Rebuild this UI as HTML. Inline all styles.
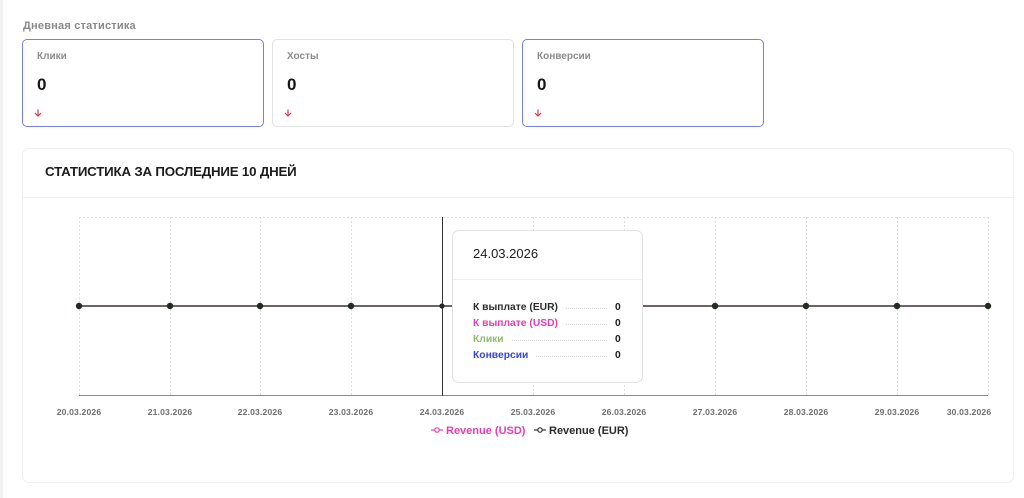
<!DOCTYPE html>
<html><head><meta charset="utf-8">
<style>
*{box-sizing:border-box;margin:0;padding:0}
body{width:1024px;height:498px;background:#fff;font-family:"Liberation Sans",sans-serif;position:relative;overflow:hidden}
.strip{position:absolute;left:0;top:0;width:3px;height:498px;background:#f2f2f2}
.h{position:absolute;left:23px;top:20px;font-size:11px;font-weight:bold;color:#8a8a8a;letter-spacing:0.2px}
.card{position:absolute;top:39px;height:88px;width:242px;border:1px solid #e3e3e3;border-radius:5px;background:#fff}
.card.b{border-color:#7581e0}
.card .l{position:absolute;left:14px;top:11px;font-size:10px;font-weight:bold;color:#8c8c8c}
.card .v{position:absolute;left:14px;top:35px;font-size:17px;font-weight:bold;color:#161616}
.card svg{position:absolute;left:11px;top:69px}
.panel{position:absolute;left:22px;top:148px;width:992px;height:335px;border:1px solid #efefef;border-radius:7px;background:#fff}
.ptitle{position:absolute;left:22px;top:15px;font-size:13.3px;font-weight:bold;color:#1b1b1b;letter-spacing:-0.2px}
.pdiv{position:absolute;left:0;right:0;top:48px;height:1px;background:#f0f0f0}
svg.main{position:absolute;left:0;top:0}
.tip{position:absolute;left:452px;top:230px;width:191px;height:153px;border:1px solid #e2e2e2;border-radius:7px;background:#fff}
.tip .d{position:absolute;left:20px;top:15px;font-size:13px;color:#1e1e1e}
.tip .dv{position:absolute;left:0;right:0;top:48px;height:1px;background:#efefef}
.row{position:absolute;left:20px;width:150px;height:14px;font-size:10.3px;font-weight:bold;display:flex;align-items:center}
.row span.t{white-space:nowrap}
.row span.dots{flex:1;border-bottom:1px dotted #d8d8d8;margin:0 8px;height:0;position:relative;top:1px}
.row span.n{color:#1e1e1e;width:8px}
</style></head><body>
<div class="strip"></div>
<div class="h">Дневная статистика</div>
<div class="card b" style="left:22px"><div class="l">Клики</div><div class="v">0</div><svg width="8" height="8" viewBox="0 0 8 8"><path d="M4 0.5V7M1 4l3 3 3-3" stroke="#e0394a" stroke-width="1.2" fill="none"/></svg></div>
<div class="card" style="left:272px"><div class="l">Хосты</div><div class="v">0</div><svg width="8" height="8" viewBox="0 0 8 8"><path d="M4 0.5V7M1 4l3 3 3-3" stroke="#e0394a" stroke-width="1.2" fill="none"/></svg></div>
<div class="card b" style="left:522px"><div class="l">Конверсии</div><div class="v">0</div><svg width="8" height="8" viewBox="0 0 8 8"><path d="M4 0.5V7M1 4l3 3 3-3" stroke="#e0394a" stroke-width="1.2" fill="none"/></svg></div>
<div class="panel"><div class="ptitle">СТАТИСТИКА ЗА ПОСЛЕДНИЕ 10 ДНЕЙ</div><div class="pdiv"></div></div>
<svg class="main" width="1024" height="498" viewBox="0 0 1024 498">
<g stroke="#dedede" stroke-width="1" stroke-dasharray="2,2" fill="none">
<line x1="79" y1="217.5" x2="988" y2="217.5"/>
<line x1="79.5" y1="217" x2="79.5" y2="395"/>
<line x1="170.5" y1="217" x2="170.5" y2="395"/>
<line x1="260.5" y1="217" x2="260.5" y2="395"/>
<line x1="351.5" y1="217" x2="351.5" y2="395"/>
<line x1="533.5" y1="217" x2="533.5" y2="395"/>
<line x1="624.5" y1="217" x2="624.5" y2="395"/>
<line x1="715.5" y1="217" x2="715.5" y2="395"/>
<line x1="806.5" y1="217" x2="806.5" y2="395"/>
<line x1="897.5" y1="217" x2="897.5" y2="395"/>
<line x1="988.5" y1="217" x2="988.5" y2="395"/>
</g>
<line x1="79" y1="395.5" x2="988" y2="395.5" stroke="#8a8a8a" stroke-width="1"/>
<line x1="442.5" y1="217" x2="442.5" y2="396" stroke="#333" stroke-width="1"/>
<line x1="79" y1="306" x2="988" y2="306" stroke="#3a3236" stroke-width="1.6"/>
<g fill="#222a22">
<circle cx="79" cy="306" r="3.2"/><circle cx="170" cy="306" r="3.2"/><circle cx="260" cy="306" r="3.2"/>
<circle cx="351" cy="306" r="3.2"/><circle cx="442" cy="306" r="2.6"/><circle cx="533" cy="306" r="3.2"/>
<circle cx="624" cy="306" r="3.2"/><circle cx="715" cy="306" r="3.2"/><circle cx="806" cy="306" r="3.2"/>
<circle cx="897" cy="306" r="3.2"/><circle cx="988" cy="306" r="3.2"/>
</g>
<g font-family="Liberation Sans, sans-serif" font-size="8.6" font-weight="bold" fill="#6e6e6e" text-anchor="middle" letter-spacing="0.15">
<text x="79" y="415">20.03.2026</text><text x="170" y="415">21.03.2026</text><text x="260" y="415">22.03.2026</text>
<text x="351" y="415">23.03.2026</text><text x="442" y="415">24.03.2026</text><text x="533" y="415">25.03.2026</text>
<text x="624" y="415">26.03.2026</text><text x="715" y="415">27.03.2026</text><text x="806" y="415">28.03.2026</text>
<text x="897" y="415">29.03.2026</text><text x="969" y="415">30.03.2026</text>
</g>
<g stroke="#e23fb4" stroke-width="1.2" fill="#fff"><line x1="431" y1="430" x2="443" y2="430"/><circle cx="437" cy="430" r="2.2"/></g>
<text x="446" y="434" font-family="Liberation Sans, sans-serif" font-size="11" font-weight="bold" fill="#e23fb4">Revenue (USD)</text>
<g stroke="#333" stroke-width="1.2" fill="#fff"><line x1="534" y1="430" x2="546" y2="430"/><circle cx="540" cy="430" r="2.2"/></g>
<text x="549" y="434" font-family="Liberation Sans, sans-serif" font-size="11" font-weight="bold" fill="#2a2a2a">Revenue (EUR)</text>
</svg>
<div class="tip">
<div class="d">24.03.2026</div><div class="dv"></div>
<div class="row" style="top:69px"><span class="t" style="color:#2c2c2c">К выплате (EUR)</span><span class="dots"></span><span class="n">0</span></div>
<div class="row" style="top:85px"><span class="t" style="color:#e23fb4">К выплате (USD)</span><span class="dots"></span><span class="n">0</span></div>
<div class="row" style="top:101px"><span class="t" style="color:#8fbd6c">Клики</span><span class="dots"></span><span class="n">0</span></div>
<div class="row" style="top:117px"><span class="t" style="color:#3846d6">Конверсии</span><span class="dots"></span><span class="n">0</span></div>
</div>
</body></html>
